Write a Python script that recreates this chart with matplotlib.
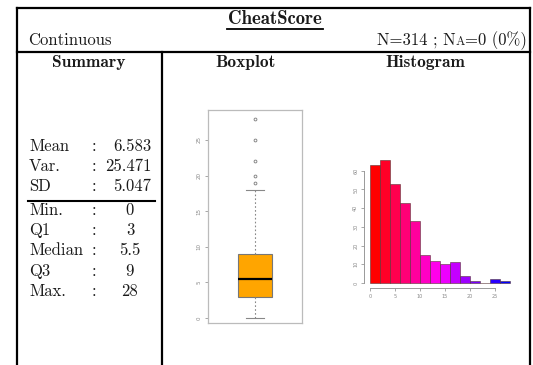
import matplotlib
matplotlib.use("Agg")
import matplotlib.pyplot as plt
from matplotlib.lines import Line2D
import matplotlib.colors as mcolors
import numpy as np

# summary of CheatScore
var_name = "CheatScore"
var_type = "Continuous"
n_obs = 314
n_na = 0
stat_labels = ["Mean", "Var.", "SD"]
stat_values = ["6.583", "25.471", "5.047"]
quant_labels = ["Min.", "Q1", "Median", "Q3", "Max."]
quant_values = [0, 3, 5.5, 9, 28]

# boxplot
whisker_hi = 18
outliers = [19, 20, 22, 25, 28]

# histogram (bins of width 2)
bin_edges = [0, 2, 4, 6, 8, 10, 12, 14, 16, 18, 20, 22, 24, 26, 28]
bin_counts = [63, 66, 53, 43, 33, 15, 12, 10, 11, 4, 1, 0, 2, 1]

W, H = 533, 365
fig = plt.figure(figsize=(W / 100, H / 100), dpi=100)


def fx(x):
    return x / W


def fy(y):
    return 1 - y / H


def hline(x0, x1, y, lw=1.6):
    fig.add_artist(Line2D([fx(x0), fx(x1)], [fy(y), fy(y)], color="black", lw=lw))


def vline(x, y0, y1, lw=1.6):
    fig.add_artist(Line2D([fx(x), fx(x)], [fy(y0), fy(y1)], color="black", lw=lw))


REG = "cmr10"
BOLD = "cmb10"
txt = "#1a1a1a"
FS = 12      # regular text
FSB = 12.5   # bold column headings

# table frame
hline(17, 530, 8)
hline(17, 530, 52)
vline(17, 8, 365)
vline(530, 8, 365)
vline(162, 52, 365)

# header
fig.text(fx(275), fy(19.5), var_name, family=BOLD, fontsize=13.5, ha="center", va="center", color=txt)
hline(227, 323, 28.5, lw=1.3)
fig.text(fx(28), fy(40), var_type, family=REG, fontsize=FS, ha="left", va="center", color=txt)

# right header with small caps "A", built right to left
pieces = [("N=%d ; N" % n_obs, FS), ("A", FS * 0.75), ("=%d (%d%%)" % (n_na, 0), FS)]
fig.canvas.draw()
r = fig.canvas.get_renderer()
xr = fx(527)
for s, fs in reversed(pieces):
    tt = fig.text(xr, fy(45), s, family=REG, fontsize=fs, ha="right", va="baseline", color=txt)
    bb = tt.get_window_extent(renderer=r)
    xr -= bb.width / W

fig.text(fx(89), fy(62), "Summary", family=BOLD, fontsize=FSB, ha="center", va="center", color=txt)
fig.text(fx(246), fy(62), "Boxplot", family=BOLD, fontsize=FSB, ha="center", va="center", color=txt)
fig.text(fx(425), fy(62), "Histogram", family=BOLD, fontsize=FSB, ha="center", va="center", color=txt)

# summary block
y = 146
for lab, val in zip(stat_labels, stat_values):
    fig.text(fx(29), fy(y), lab, family=REG, fontsize=FS, ha="left", va="center", color=txt)
    fig.text(fx(94), fy(y), ":", family=REG, fontsize=FS, ha="center", va="center", color=txt)
    fig.text(fx(151), fy(y), val, family=REG, fontsize=FS, ha="right", va="center", color=txt)
    y += 20
hline(28, 155, 201, lw=1.5)
y = 210
for lab, val in zip(quant_labels, quant_values):
    fig.text(fx(29), fy(y), lab, family=REG, fontsize=FS, ha="left", va="center", color=txt)
    fig.text(fx(94), fy(y), ":", family=REG, fontsize=FS, ha="center", va="center", color=txt)
    fig.text(fx(130), fy(y), "%g" % val, family=REG, fontsize=FS, ha="center", va="center", color=txt)
    y += 20.3

# boxplot
axb = fig.add_axes([fx(208), fy(323), (302 - 208) / W, (323 - 110) / H])
stats = [dict(med=quant_values[2], q1=quant_values[1], q3=quant_values[3],
              whislo=quant_values[0], whishi=whisker_hi, fliers=outliers)]
axb.bxp(stats, positions=[1], widths=0.37, patch_artist=True,
        boxprops=dict(facecolor="#FFA500", edgecolor="#777777", lw=0.8),
        medianprops=dict(color="black", lw=1.6),
        whiskerprops=dict(color="#888888", lw=0.8, linestyle=(0, (1.5, 2))),
        capprops=dict(color="#888888", lw=0.8),
        flierprops=dict(marker="o", markersize=2, markerfacecolor="none",
                        markeredgecolor="#888888", markeredgewidth=0.7))
axb.set_xlim(0.5, 1.5)
axb.set_ylim(-0.7, 29.2)
axb.set_xticks([])
axb.set_yticks([0, 5, 10, 15, 20, 25])
axb.set_yticklabels(["0", "5", "10", "15", "20", "25"], rotation=90, va="center")
axb.tick_params(axis="y", length=2.5, width=0.6, color="#999999", labelsize=4,
                labelcolor="#888888", pad=2)
for sp in axb.spines.values():
    sp.set_color("#bbbbbb")
    sp.set_linewidth(0.9)

# histogram
axh = fig.add_axes([fx(364.4), fy(288), (515.6 - 364.4) / W, (288 - 154.6) / H])
n_bins = len(bin_counts)
hues = np.linspace(1.0, 0.667, n_bins) % 1.0
cols = [mcolors.hsv_to_rgb((h, 1, 1)) for h in hues]
axh.bar(bin_edges[:-1], bin_counts, width=np.diff(bin_edges), align="edge",
        color=cols, edgecolor="#553333", linewidth=0.4)
axh.set_xlim(-1.12, 29.12)
axh.set_ylim(-2.64, 68.64)
axh.set_xticks([0, 5, 10, 15, 20, 25])
axh.set_yticks([0, 10, 20, 30, 40, 50, 60])
axh.set_yticklabels([str(v) for v in range(0, 70, 10)], rotation=90, va="center")
axh.tick_params(length=2.5, width=0.6, color="#999999", labelsize=3.5,
                labelcolor="#888888", pad=2)
axh.spines["top"].set_visible(False)
axh.spines["right"].set_visible(False)
axh.spines["left"].set_bounds(0, 60)
axh.spines["bottom"].set_bounds(0, 25)
for sp in ("left", "bottom"):
    axh.spines[sp].set_color("#999999")
    axh.spines[sp].set_linewidth(0.7)
axh.patch.set_visible(False)

fig.savefig("out.png", dpi=100)
